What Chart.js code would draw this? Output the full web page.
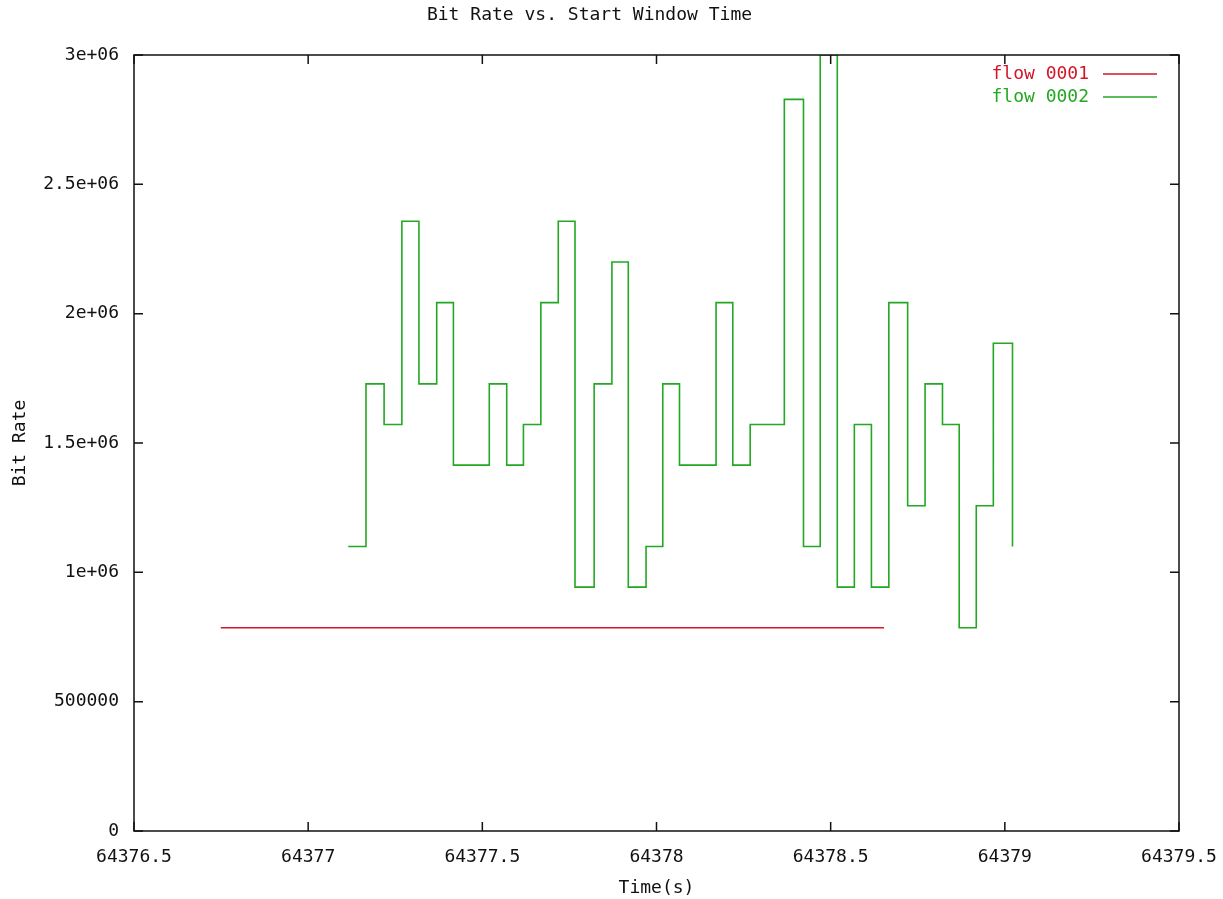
<!DOCTYPE html>
<html>
<head>
<meta charset="utf-8">
<script src="https://cdn.jsdelivr.net/npm/chart.js@4"></script>
<style>
  html, body { margin: 0; padding: 0; background: #fff; }
  #wrap { width: 1223px; height: 899px; }
</style>
</head>
<body>
<div id="wrap"><canvas id="rateChart" width="1223" height="899"></canvas></div>
<script>
// Valores
const flow1Times = [64376.749, 64378.653];
const flow1Rates = [785714, 785714];

const flow2Times = [
  64377.115, 64377.166, 64377.218, 64377.269, 64377.318, 64377.369, 64377.417,
  64377.468, 64377.520, 64377.570, 64377.618, 64377.668, 64377.718, 64377.766,
  64377.821, 64377.872, 64377.919, 64377.970, 64378.018, 64378.066, 64378.116,
  64378.171, 64378.219, 64378.269, 64378.317, 64378.367, 64378.422, 64378.470,
  64378.519, 64378.568, 64378.617, 64378.667, 64378.721, 64378.771, 64378.821,
  64378.869, 64378.918, 64378.967, 64379.022,
];
const flow2Rates = [
  1100000, 1728571, 1571429, 2357143, 1728571, 2042857, 1414286,
  1414286, 1728571, 1414286, 1571429, 2042857, 2357143, 942857,
  1728571, 2200000, 942857, 1100000, 1728571, 1414286, 1414286,
  2042857, 1414286, 1571429, 1571429, 2828571, 1100000, 3000000,
  942857, 1571429, 942857, 2042857, 1257143, 1728571, 1571429,
  785714, 1257143, 1885714, 1100000,
];

const seriesLabels = ["flow 0001", "flow 0002"];
const seriesColors = ["rgb(210, 22, 40)", "rgb(34, 168, 34)"];
const yTickLabels = ["0", "500000", "1e+06", "1.5e+06", "2e+06", "2.5e+06", "3e+06"];

const FONT = "'DejaVu Sans Mono', 'Liberation Mono', monospace";

const toPoints = (xs, ys) => xs.map((x, i) => ({ x: x, y: ys[i] }));

// borde, marcas hacia dentro y leyenda estilo gnuplot
const gnuplotFrame = {
  id: "gnuplotFrame",
  afterDraw(chart) {
    const ctx = chart.ctx;
    const a = chart.chartArea;
    const sx = chart.scales.x;
    const sy = chart.scales.y;
    const tick = 9;
    ctx.save();
    ctx.strokeStyle = "#111";
    ctx.lineWidth = 1.5;
    ctx.strokeRect(a.left, a.top, a.right - a.left, a.bottom - a.top);
    ctx.beginPath();
    sx.ticks.forEach((t, i) => {
      const px = sx.getPixelForTick(i);
      ctx.moveTo(px, a.bottom);
      ctx.lineTo(px, a.bottom - tick);
      ctx.moveTo(px, a.top);
      ctx.lineTo(px, a.top + tick);
    });
    sy.ticks.forEach((t, i) => {
      const py = sy.getPixelForTick(i);
      ctx.moveTo(a.left, py);
      ctx.lineTo(a.left + tick, py);
      ctx.moveTo(a.right, py);
      ctx.lineTo(a.right - tick, py);
    });
    ctx.stroke();

    // leyenda
    ctx.font = "18px " + FONT;
    ctx.textAlign = "right";
    ctx.textBaseline = "middle";
    chart.data.datasets.forEach((ds, i) => {
      const y = a.top + 19 + i * 23;
      ctx.fillStyle = ds.borderColor;
      ctx.fillText(ds.label, a.right - 90, y);
      ctx.strokeStyle = ds.borderColor;
      ctx.lineWidth = 1.5;
      ctx.beginPath();
      ctx.moveTo(a.right - 76, y);
      ctx.lineTo(a.right - 22, y);
      ctx.stroke();
    });
    ctx.restore();
  },
};

new Chart(document.getElementById("rateChart").getContext("2d"), {
  type: "line",
  data: {
    datasets: [
      {
        label: seriesLabels[0],
        data: toPoints(flow1Times, flow1Rates),
        borderColor: seriesColors[0],
        backgroundColor: seriesColors[0],
        borderWidth: 1.6,
        pointRadius: 0,
        stepped: true,
        fill: false,
      },
      {
        label: seriesLabels[1],
        data: toPoints(flow2Times, flow2Rates),
        borderColor: seriesColors[1],
        backgroundColor: seriesColors[1],
        borderWidth: 1.6,
        pointRadius: 0,
        stepped: true,
        fill: false,
      },
    ],
  },
  options: {
    responsive: false,
    animation: false,
    layout: { padding: { left: 0, right: 44, top: 0, bottom: 0 } },
    plugins: {
      legend: { display: false },
      tooltip: { enabled: false },
      title: {
        display: true,
        text: "Bit Rate vs. Start Window Time",
        color: "#111",
        font: { family: FONT, size: 18, weight: "normal" },
        padding: { top: 5, bottom: 28.4 },
      },
    },
    scales: {
      x: {
        type: "linear",
        min: 64376.5,
        max: 64379.5,
        grid: { display: false, drawTicks: false },
        border: { display: false },
        ticks: {
          stepSize: 0.5,
          padding: 16,
          color: "#111",
          font: { family: FONT, size: 18 },
          maxRotation: 0,
          callback: (v) => String(v),
        },
        title: {
          display: true,
          text: "Time(s)",
          color: "#111",
          font: { family: FONT, size: 18 },
          padding: { top: 0, bottom: 0 },
        },
        afterFit: (scale) => {
          scale.height = 68;
          scale.paddingLeft = 0;
          scale.paddingRight = 0;
        },
      },
      y: {
        min: 0,
        max: 3000000,
        grid: { display: false, drawTicks: false },
        border: { display: false },
        ticks: {
          stepSize: 500000,
          padding: 15,
          color: "#111",
          font: { family: FONT, size: 18 },
          callback: (v, i) => yTickLabels[i],
        },
        title: {
          display: true,
          text: "Bit Rate",
          color: "#111",
          font: { family: FONT, size: 18 },
          padding: { top: 10, bottom: 0 },
        },
        afterFit: (scale) => {
          scale.width = 134;
          scale.paddingTop = 0;
          scale.paddingBottom = 0;
        },
      },
    },
  },
  plugins: [gnuplotFrame],
});
</script>
</body>
</html>
